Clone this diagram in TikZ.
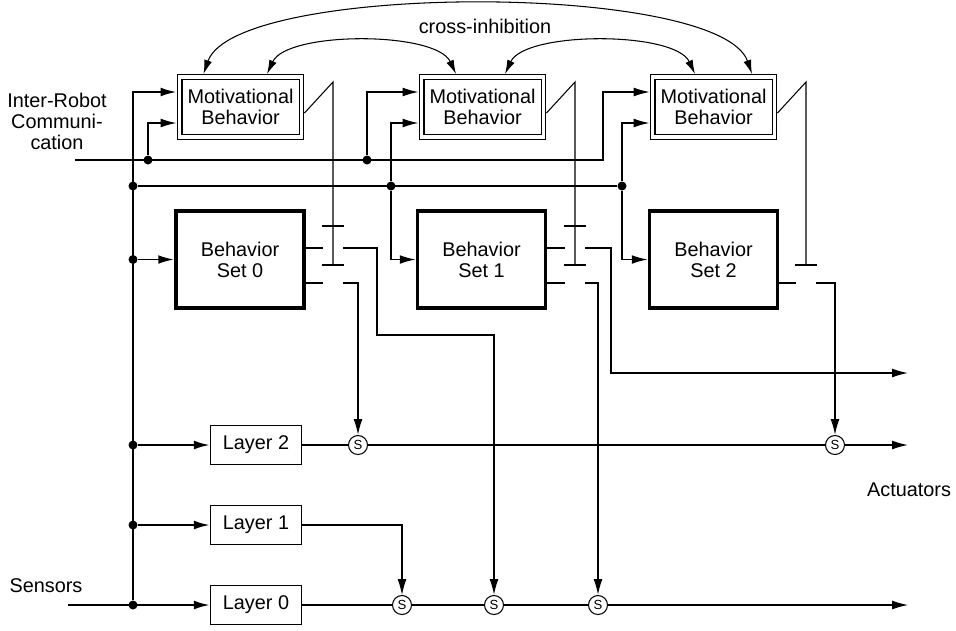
\documentclass[tikz,border=0pt]{standalone}
\usepackage{fontspec}
\setmainfont{Liberation Sans}
\usetikzlibrary{arrows.meta,calc,positioning}

\begin{document}
\begin{tikzpicture}[x=0.02cm,y=-0.02cm,
font=\fontsize{11.3}{12}\selectfont,
motbox/.style={draw,double,line width=.6pt,double distance=2.2pt,outer sep=1.7pt,
  minimum width=2.44cm,minimum height=1.2cm,align=center},
setbox/.style={draw,line width=2.2pt,minimum width=2.56cm,minimum height=1.94cm,align=center},
laybox/.style={draw,line width=.8pt,minimum width=1.82cm,minimum height=.78cm},
scirc/.style={draw,circle,fill=white,line width=.6pt,inner sep=0pt,minimum size=.38cm,
  font=\fontsize{7.5}{8}\selectfont},
jdot/.style={circle,fill,inner sep=0pt,minimum size=.18cm},
wire/.style={line width=.6pt},
wiremid/.style={line width=.8pt},
wirethick/.style={line width=1.1pt},
arr/.style={-{Latex[length=9pt,width=5pt]}},
inhib/.style={line width=.6pt,{Latex[length=8pt,width=4.5pt]}-{Latex[length=8pt,width=4.5pt]}}]
\useasboundingbox (0,0) rectangle (956,630);

\node (mot0) [motbox] at (240.5,107) {Motivational\\Behavior};
\node (mot1) [motbox] at (482.5,107) {Motivational\\Behavior};
\node (mot2) [motbox] at (713.5,107) {Motivational\\Behavior};
\node (set0) [setbox] at (240,259.5) {Behavior\\Set 0};
\node (set1) [setbox] at (481.5,259.5) {Behavior\\Set 1};
\node (set2) [setbox] at (713.5,259.5) {Behavior\\Set 2};
\node (lay2) [laybox] at (256,445) {Layer 2};
\node (lay1) [laybox] at (256,525) {Layer 1};
\node (lay0) [laybox] at (256,605) {Layer 0};

\node (s2a) [scirc] at (358,445) {S};
\node (s2b) [scirc] at (835,445) {S};
\node (s0a) [scirc] at (402,605) {S};
\node (s0b) [scirc] at (494,605) {S};
\node (s0c) [scirc] at (598,605) {S};

\node (dl0) [jdot] at (133,605) {};
\node (dl1) [jdot] at (133,525) {};
\node (dl2) [jdot] at (133,445) {};
\node (dset0) [jdot] at (133,259.5) {};
\node (dbus0) [jdot] at (133,186) {};
\node (dbus1) [jdot] at (391,186) {};
\node (dbus2) [jdot] at (622,186) {};
\node (dcom0) [jdot] at (148,160) {};
\node (dcom1) [jdot] at (367,160) {};

\node (irc) [align=center] at (57,121) {Inter-Robot\\Communi-\\cation};
\node (senslbl) at (46,586) {Sensors};
\node (actlbl) at (909,490) {Actuators};
\node (cinh) at (485,26) {cross-inhibition};

\coordinate (sensin) at (68,605);
\coordinate (comin) at (75,160);
\coordinate (comturn) at (603,160);
\coordinate (act0) at (908,605);
\coordinate (act1) at (908,373);
\coordinate (act2) at (908,445);
\coordinate (bend0) at (377,335);
\coordinate (bend1) at (611,373);
\foreach \i in {0,1,2}{
  \coordinate (up\i) at ($(mot\i.west)+(0,-15)$);
  \coordinate (dn\i) at ($(mot\i.west)+(0,16)$);
}

\draw[wirethick,arr] (sensin) -- (lay0);
\draw[wirethick,arr] (dl0) |- (up0);
\draw[wirethick,arr] (dl1) -- (lay1);
\draw[wirethick,arr] (dl2) -- (lay2);
\draw[wirethick,arr] (dset0) -- (set0);
\draw[wiremid] (dbus0) -- (dbus2);
\draw[wiremid,arr] (dbus1) |- (dn1);
\draw[wiremid,arr] (dbus1) |- (set1);
\draw[wiremid,arr] (dbus2) |- (dn2);
\draw[wiremid,arr] (dbus2) |- (set2);
\draw[wire,arr] (comin) -- (comturn) |- (up2);
\draw[wiremid,arr] (dcom0) |- (dn0);
\draw[wiremid,arr] (dcom1) |- (up1);

\draw[inhib] ($(mot0.north)+(-37,0)$) .. controls +(32,-92) and +(-32,-92) .. ($(mot2.north)+(38.5,0)$);
\draw[inhib] ($(mot0.north)+(26.5,0)$) .. controls +(20,-43) and +(-20,-43) .. ($(mot1.north)+(-26.5,0)$);
\draw[inhib] ($(mot1.north)+(22.5,0)$) .. controls +(20,-43) and +(-20,-43) .. ($(mot2.north)+(-18.5,0)$);

\foreach \i/\k in {0/333,1/575,2/806}{
  \coordinate (top\i) at (\k,82);
  \coordinate (bar\i) at (\k,265);
  \coordinate (lo\i) at (\k-10,283);
  \coordinate (lr\i) at (\k+10,283);
  \draw[wire] ($(mot\i.east)+(0,6)$) -- (top\i) -- (bar\i);
  \draw[wire] ($(bar\i)+(-11,0)$) -- ($(bar\i)+(11,0)$);
  \draw[wire] (set\i.east |- lo\i) -- (lo\i);
}
\foreach \i/\k in {0/333,1/575}{
  \coordinate (ubar\i) at (\k,226);
  \coordinate (uo\i) at (\k-10,248);
  \coordinate (ur\i) at (\k+10,248);
  \draw[wire] ($(ubar\i)+(-11,0)$) -- ($(ubar\i)+(11,0)$);
  \draw[wire] (set\i.east |- uo\i) -- (uo\i);
}

\draw[wiremid,arr] (ur0) -| (bend0) -| (s0b);
\draw[wiremid,arr] (lr0) -| (s2a);
\draw[wiremid,arr] (ur1) -| (bend1) -- (act1);
\draw[wiremid,arr] (lr1) -| (s0c);
\draw[wiremid,arr] (lr2) -| (s2b);

\draw[wiremid,arr] (lay2) -- (s2a) -- (s2b) -- (act2);
\draw[wire,arr] (lay1) -| (s0a);
\draw[wire,arr] (lay0) -- (s0a) -- (s0b) -- (s0c) -- (act0);
\end{tikzpicture}
\end{document}
